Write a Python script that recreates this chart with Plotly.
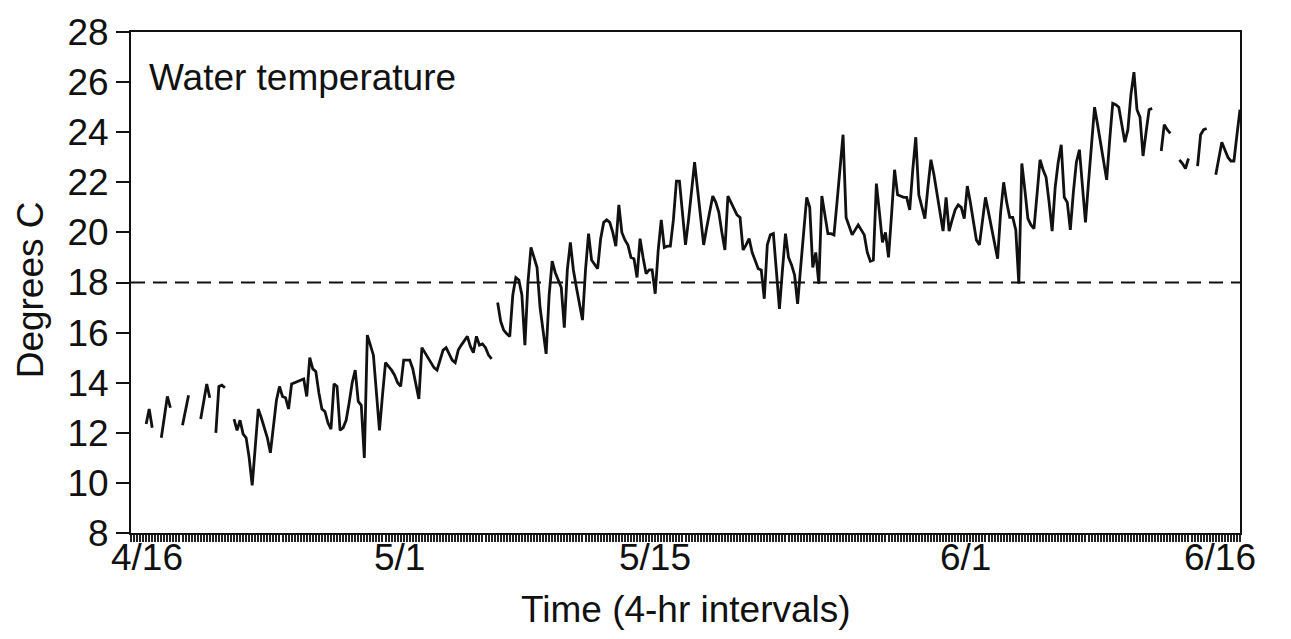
import plotly.graph_objects as go

# Water temperature readings at 4-hr intervals from 4/16 (index 0) to 6/16 (index 366); None = missing
temps = [
    None, None, None, None, None, 12.35, 12.95, 12.2, None, None,
    11.8, 12.6, 13.45, 13.0, None, None, None, 12.3, 12.9, 13.5,
    None, None, None, 12.55, 13.3, 13.95, 13.4, None, 12.0, 13.85,
    13.9, 13.8, None, None, 12.55, 12.1, 12.5, 11.95, 11.8, 11.0,
    9.9, 11.4, 12.95, 12.6, 12.2, 11.8, 11.2, 12.2, 13.3, 13.85,
    13.45, 13.4, 12.95, 13.95, 14.0, 14.05, 14.1, 14.15, 13.45, 15.0,
    14.55, 14.45, 13.6, 12.95, 12.85, 12.4, 12.15, 13.95, 13.85, 12.1,
    12.2, 12.5, 13.2, 14.0, 14.5, 13.25, 13.1, 11.0, 15.9, 15.5,
    15.1, 13.6, 12.1, 13.5, 14.8, 14.65, 14.5, 14.3, 14.0, 13.85,
    14.9, 14.9, 14.9, 14.55, 13.9, 13.35, 15.4, 15.2, 15.0, 14.8,
    14.6, 14.5, 14.9, 15.3, 15.4, 15.15, 14.9, 14.8, 15.3, 15.5,
    15.7, 15.85, 15.45, 15.2, 15.85, 15.5, 15.55, 15.4, 15.1, 14.95,
    None, 17.2, 16.45, 16.1, 15.95, 15.85, 17.5, 18.2, 18.1, 17.5,
    15.5, 18.0, 19.4, 19.0, 18.6, 17.0, 16.0, 15.15, 17.5, 18.85,
    18.4, 18.1, 17.8, 16.2, 18.5, 19.6, 18.5, 17.8, 17.1, 16.5,
    18.5, 19.95, 18.9, 18.7, 18.55, 19.75, 20.4, 20.5, 20.4, 20.0,
    19.45, 21.1, 20.0, 19.7, 19.5, 19.0, 18.95, 18.2, 19.75, 19.0,
    18.35, 18.5, 18.5, 17.55, 19.3, 20.5, 19.4, 19.45, 19.45, 20.5,
    22.05, 22.05, 20.8, 19.5, 20.5, 21.8, 22.8, 21.7, 20.6, 19.5,
    20.2, 20.9, 21.45, 21.2, 20.8, 20.0, 19.3, 21.45, 21.2, 20.9,
    20.7, 20.6, 19.3, 19.5, 19.75, 19.2, 18.9, 18.55, 18.5, 17.35,
    19.5, 19.9, 19.95, 18.5, 16.95, 18.5, 19.95, 19.0, 18.7, 18.3,
    17.15, 18.6, 20.0, 21.4, 21.0, 18.6, 19.2, 17.95, 21.45, 20.7,
    19.95, 19.95, 19.9, 21.2, 22.6, 23.9, 20.6, 20.2, 19.9, 20.1,
    20.3, 20.1, 19.9, 19.2, 18.85, 18.9, 21.95, 20.8, 19.6, 20.0,
    19.0, 20.7, 22.5, 21.5, 21.45, 21.4, 21.4, 20.9, 22.5, 23.8,
    21.5, 21.0, 20.55, 21.8, 22.9, 22.3, 21.6, 20.9, 20.05, 21.4,
    20.05, 20.5, 20.9, 21.1, 21.0, 20.55, 21.85, 21.2, 20.4, 19.7,
    19.5, 20.4, 21.4, 20.8, 20.2, 19.6, 18.95, 20.8, 22.0, 21.2,
    20.6, 20.6, 20.1, 17.95, 22.75, 21.7, 20.55, 20.3, 20.15, 21.5,
    22.9, 22.5, 22.2, 21.2, 20.05, 21.8, 22.8, 23.5, 21.4, 21.2,
    20.1, 21.6, 22.8, 23.3, 21.8, 20.4, 22.0, 23.6, 25.0, 24.3,
    23.5, 22.8, 22.1, 23.7, 25.15, 25.1, 25.0, 24.3, 23.6, 24.1,
    25.5, 26.4, 24.9, 24.6, 23.05, 24.0, 24.9, 24.95, None, None,
    23.25, 24.3, 24.1, 23.95, None, None, 22.9, 22.75, 22.55, 22.95,
    None, None, 22.65, 23.9, 24.1, 24.15, None, None, 22.3, 23.0,
    23.6, 23.3, 23.0, 22.85, 22.85, 23.9, 24.9,
]
interval_index = list(range(len(temps)))

date_labels = ["4/16", "5/1", "5/15", "6/1", "6/16"]
date_positions = [0, 90, 174, 276, 366]
label_shifts = [16, -4, -3, -2, -20]

threshold = 18
y_ticks = [8, 10, 12, 14, 16, 18, 20, 22, 24, 26, 28]

FONT = "Liberation Sans, Arial, Helvetica, sans-serif"
INK = "#111111"

fig = go.Figure()
fig.add_trace(go.Scatter(
    x=interval_index, y=temps, mode="lines",
    line=dict(color=INK, width=2.8),
    connectgaps=False, showlegend=False, hoverinfo="skip",
))
fig.add_trace(go.Scatter(
    x=[interval_index[0], interval_index[-1]], y=[threshold, threshold], mode="lines",
    line=dict(color=INK, width=2, dash="14px,8px"),
    showlegend=False, hoverinfo="skip",
))

annotations = [
    dict(text="Water temperature", x=0.014, y=0.955, xref="paper", yref="paper",
         xanchor="left", yanchor="top", showarrow=False, font=dict(size=37, color=INK)),
    dict(text="Time (4-hr intervals)", x=(686 - 131) / 1109, y=-(611 - 533) / 512,
         xref="paper", yref="paper", xanchor="center", yanchor="middle",
         showarrow=False, font=dict(size=37, color=INK)),
    dict(text="Degrees C", x=-(131 - 30) / 1109, y=1 - (285 - 21) / 512,
         xref="paper", yref="paper", xanchor="center", yanchor="middle", textangle=-90,
         showarrow=False, font=dict(size=37, color=INK)),
]
for lab, pos, sh in zip(date_labels, date_positions, label_shifts):
    annotations.append(dict(
        text=lab, x=pos, y=-(558 - 533) / 512, xref="x", yref="paper",
        xanchor="center", yanchor="middle", xshift=sh, showarrow=False,
        font=dict(size=37, color=INK),
    ))

fig.update_layout(
    width=1291, height=639,
    margin=dict(l=131, r=51, t=21, b=106),
    paper_bgcolor="white", plot_bgcolor="white",
    font=dict(family=FONT, size=37, color=INK),
    xaxis=dict(
        range=[0, 366], tickmode="array", tickvals=interval_index,
        ticktext=["" for _ in interval_index],
        ticks="outside", ticklen=7, tickwidth=1.5, tickcolor="#222222",
        showgrid=False, zeroline=False, showline=True, linecolor=INK, linewidth=2,
        mirror=True,
    ),
    yaxis=dict(
        range=[8, 28], tickmode="array", tickvals=y_ticks,
        ticks="outside", ticklen=13, tickwidth=2, tickcolor=INK,
        showgrid=False, zeroline=False, showline=True, linecolor=INK, linewidth=2,
        mirror=True, tickfont=dict(size=37, color=INK),
    ),
    annotations=annotations,
)

fig.write_html("out.html")
